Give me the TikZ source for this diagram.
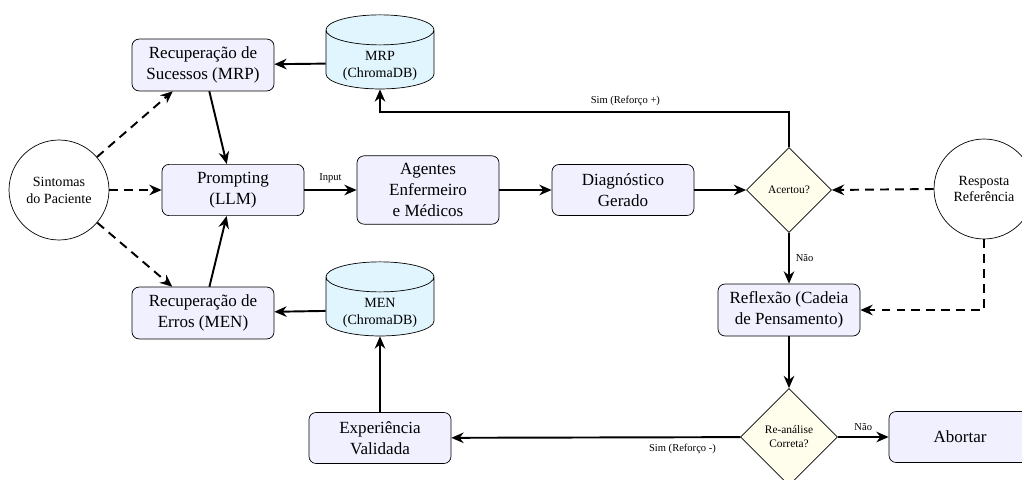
\documentclass[tikz,border=0pt]{standalone}
\usepackage{fontspec}
\setmainfont{Liberation Serif}
\usetikzlibrary{shapes.geometric,arrows.meta}
\def\DbText#1#2{\raisebox{-0.05cm}[\height][\depth]{\begin{tabular}{@{}c@{}}#1\\#2\end{tabular}}}

\begin{document}
\begin{tikzpicture}[x=0.02cm,y=-0.02cm,
    >={Stealth[length=7pt,width=6pt]},
    box/.style={draw,rounded corners=4pt,fill=blue!6,align=center,
        minimum width=2.84cm,minimum height=1.02cm,inner sep=4.5pt,
        font=\fontsize{9.7}{11.7}\selectfont},
    db/.style={draw,cylinder,shape border rotate=90,aspect=0.35,fill=cyan!12,
        minimum width=2.16cm,minimum height=1.1cm,inner ysep=0.5pt,
        font=\fontsize{8}{9.6}\selectfont},
    ent/.style={draw,circle,align=center,minimum size=2.0cm,
        font=\fontsize{8}{9.6}\selectfont},
    test/.style={draw,diamond,aspect=1,fill=yellow!7,align=center,inner sep=1pt,
        font=\fontsize{6.5}{8}\selectfont},
    lbl/.style={font=\fontsize{6}{7}\selectfont},
    flow/.style={->,line width=1.1pt},
    feed/.style={->,line width=1.1pt,dash pattern=on 5pt off 3.5pt}]

    \useasboundingbox (0,0) rectangle (1022,480);

    % entradas
    \node[ent] (sint) at (59,190) {Sintomas\\do Paciente};
    \node[ent] (resp) at (984,189) {Resposta\\Referência};

    % memorias
    \node[box] (rs) at (203,65) {Recuperação de\\Sucessos (MRP)};
    \node[db] (mrp) at (380,63) {\DbText{MRP}{(ChromaDB)}};
    \node[box] (re) at (203,313) {Recuperação de\\Erros (MEN)};
    \node[db] (men) at (380,310) {\DbText{MEN}{(ChromaDB)}};

    % fluxo principal
    \node[box] (prompt) at (233,190) {Prompting\\(LLM)};
    \node[box] (ag) at (428,190) {Agentes\\Enfermeiro\\e Médicos};
    \node[box] (diag) at (623,190) {Diagnóstico\\Gerado};
    \node[test,minimum size=1.7cm] (acer) at (789,190) {Acertou?};
    \node[box] (refl) at (789,310) {Reflexão (Cadeia\\de Pensamento)};
    \node[test,minimum size=1.94cm] (rean) at (789,437) {Re-análise\\Correta?};
    \node[box] (abort) at (960,437) {Abortar};
    \node[box] (exp) at (380,438) {Experiência\\Validada};

    \draw[feed] (sint) -- (rs);
    \draw[feed] (sint) -- (prompt);
    \draw[feed] (sint) -- (re);

    \draw[flow] (mrp) -- (rs);
    \draw[flow] (men) -- (re);
    \draw[flow] (rs) -- (prompt);
    \draw[flow] (re) -- (prompt);

    \draw[flow] (prompt) -- node[lbl,above] {Input} (ag);
    \draw[flow] (ag) -- (diag);
    \draw[flow] (diag) -- (acer);
    \draw[feed] (resp.west) -- (acer.east);

    \draw[flow] (acer.north) -- ++(0,-35) -| node[lbl,pos=0.2,above] {Sim (Reforço +)} (mrp.south);
    \draw[flow] (acer) -- node[lbl,right] {Não} (refl);
    \draw[feed] (resp.south) |- (refl.east);

    \draw[flow] (refl) -- (rean);
    \draw[flow] (rean) -- node[lbl,pos=0.2,below] {Sim (Reforço -)} (exp);
    \draw[flow] (rean) -- node[lbl,above] {Não} (abort);
    \draw[flow] (exp) -- (men);

\end{tikzpicture}
\end{document}
